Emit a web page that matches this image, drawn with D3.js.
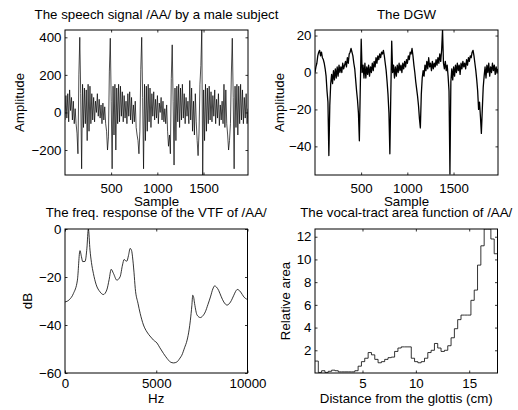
<!DOCTYPE html>
<html>
<head>
<meta charset="utf-8">
<script src="https://cdn.jsdelivr.net/npm/d3@7"></script>
<style>
  body { margin: 0; background: #fff; }
  svg { display: block; }
</style>
</head>
<body>
<div id="chart"></div>
<script>
// speech signal /AA/, one value every 10 samples from sample 1
const speechStep = 10;
const speechAmp = [
  -40, 90, -30, 100, -50, 120, 10, 80, -40, 60, -60, 20, -60, -110, -220, 200,
  400, 100, -300, 150, -80, 130, -60, 120, -150, 150, -100, 140, -60, 100, -40, 80,
  -50, 60, 0, 100, -20, 70, -30, 40, -60, 50, -40, 30, -60, -100, -200, -130, 220,
  395, 60, -300, 140, -120, 150, -200, 130, -60, 150, -50, 140, -20, 110, -50, 90,
  -30, 60, -60, 100, -20, 110, -40, 80, -60, 40, -50, 60, -80, -120, -150, -220, -100, 230,
  400, 80, -300, 150, -150, 140, -100, 150, -50, 130, -80, 100, -20, 110, -40, 70,
  -30, 90, -60, 50, 0, 80, -40, 60, -50, 20, -60, 40, -100, -180, -120, -220, 180,
  360, 60, -280, 130, -150, 140, -50, 150, -80, 130, -40, 150, -30, 100, -60, 80,
  -20, 60, -60, 170, -40, 130, -100, 60, -120, 100, -50, -150, -230, -110, 150, 250,
  439, -333, 120, -150, 150, -100, 130, -60, 140, -40, 110, -50, 90, -20, 120, -60,
  70, -30, 100, -70, 40, -40, 60, -60, 150, -80, 120, -60, -120, -200, -150, -60, 210,
  395, 80, -300, 140, -80, 150, -120, 140, -60, 150, -40, 120, -60, 80, -30, 100, -60, 20
];

// differentiated glottal wave, same sampling as the speech signal
const dgwAmp = [
  0, 3, 5, 9, 11, 12, 9, 11, 8, 7, 5, 2, -2, -10, -16, -45,
  -18, -6, -1, -6, 1, -4, 2, -3, 3, -2, 4, 0, 3, 0, 5, 2,
  4, 6, 3, 8, 5, 10, 11, 13, 11, 9, 5, 2, -4, -10, -15, -22,
  -37, -8, 18, 0, 4, -3, 5, -3, 3, -1, 4, -2, 3, 0, 5, 1,
  6, 3, 8, 5, 9, 7, 10, 8, 11, 10, 12, 9, 5, 1, -5, -12,
  -22, -44, -12, 17, 0, 4, -3, 3, -2, 4, 0, 5, 1, 4, 0, 5,
  2, 6, 3, 7, 5, 9, 7, 11, 10, 13, 9, 4, 0, -5, -9, -13,
  -18, -25, -30, -12, -3, 1, -2, 4, 1, 6, 2, 8, 3, 5, 1, 6,
  2, 5, 3, 7, 4, 8, 5, 10, 6, 12, 23, 5, 2, 6, 1, 4,
  -2, -10, -55, -5, 2, -4, 3, -2, 4, 0, 5, 1, 4, -1, 5, 2,
  6, 3, 5, 2, 7, 4, 8, 6, 9, 8, 11, 12, 9, 5, 1, -4,
  -10, -20, -16, -24, -33, -20, -8, -2, 3, -3, 4, 0, 5, -2, 3, 0,
  5, 1, 4, -1, 3, 0, 2
];

// frequency response of the vocal-tract filter
const freqHz = [
  0, 230, 460, 680, 820, 900, 970, 1100, 1200, 1280, 1370, 1450, 1555, 1700, 1920,
  2100, 2290, 2420, 2530, 2655, 2840, 3020, 3150, 3240, 3320, 3390, 3480, 3570, 3650,
  3700, 3780, 3850, 4000, 4120, 4300, 4490, 4700, 4850, 5040, 5200, 5400, 5600, 5770,
  5950, 6130, 6300, 6400, 6550, 6690, 6800, 6870, 6950, 7000, 7050, 7100, 7240, 7420,
  7550, 7690, 7830, 7970, 8100, 8200, 8300, 8420, 8550, 8700, 8880, 9070, 9250, 9350,
  9440, 9530, 9620, 9800, 10000
];
const freqDb = [
  -30.4, -29.5, -26.9, -21.3, -9, -11.5, -13.6, -13.5, -8, 0, -8.8, -14, -18.5, -23, -26.2,
  -27.3, -25.4, -21, -16.8, -18.5, -21.3, -19.9, -15, -12.7, -13.2, -13.4, -11, -8.1, -9,
  -11.6, -18, -24.8, -31, -35.2, -40, -42.9, -45, -46.3, -47.5, -49.5, -51.9, -54, -55.4,
  -55.8, -55.4, -53.8, -52.6, -49.5, -46.3, -42, -38, -32, -27.6, -28.5, -31, -35.9, -36.9,
  -36.2, -34.5, -31.5, -28.3, -25, -23.7, -24.2, -25.6, -28, -30.4, -31.7, -30.4, -27.6, -26,
  -25.2, -25.5, -26.2, -28.3, -29.4
];

// vocal-tract area function (stairs)
const areaDist = [
  0.55, 0.86, 1.17, 1.48, 1.79, 2.11, 2.42, 2.73, 3.04, 3.35, 3.66, 3.97, 4.28, 4.59,
  4.90, 5.21, 5.53, 5.84, 6.15, 6.46, 6.77, 7.08, 7.39, 7.70, 8.01, 8.32, 8.63, 8.94,
  9.26, 9.57, 9.88, 10.19, 10.50, 10.81, 11.12, 11.43, 11.74, 12.05, 12.36, 12.68, 12.99,
  13.30, 13.61, 13.92, 14.23, 14.54, 14.85, 15.16, 15.47, 15.78, 16.09, 16.40, 16.72,
  17.03, 17.34, 17.65
];
const areaValues = [
  1.05, 0.05, 0.2, 0.05, 0.15, 0.25, 0.2, 0.1, 0.1, 0.1, 0.1, 0.1, 0.2, 0.6,
  1.0, 1.3, 1.8, 1.6, 1.2, 0.9, 1.0, 1.2, 1.35, 1.4, 1.9, 2.2, 2.3, 2.3,
  2.3, 1.3, 1.0, 0.9, 1.0, 1.3, 1.8, 2.0, 2.6, 2.2, 1.9, 2.0, 2.4,
  3.1, 3.9, 4.7, 5.1, 5.1, 5.1, 6.4, 7.3, 9.5, 11.2, 12.68, 12.68,
  11.8, 10.5, 10.5
];

const sampleTicks = [500, 1000, 1500];
const speechTicks = [-200, 0, 200, 400];
const dgwTicks = [-40, -20, 0, 20];
const hzTicks = [0, 5000, 10000];
const dbTicks = [-60, -40, -20, 0];
const distTicks = [5, 10, 15];
const areaTicks = [2, 4, 6, 8, 10, 12];

const FONT = '"Liberation Sans", Arial, Helvetica, sans-serif';
const FONT_SIZE = 13.3;

const svg = d3.select('#chart').append('svg')
    .attr('width', 518)
    .attr('height', 410)
    .attr('font-family', FONT);

function drawPanel(cfg) {
    const x = d3.scaleLinear()
        .domain(cfg.xDomain)
        .range([cfg.left, cfg.left + cfg.width]);
    const y = d3.scaleLinear()
        .domain(cfg.yDomain)
        .range([cfg.top + cfg.height, cfg.top]);

    svg.append('clipPath')
        .attr('id', 'clip-' + cfg.id)
        .append('rect')
        .attr('x', cfg.left)
        .attr('y', cfg.top)
        .attr('width', cfg.width)
        .attr('height', cfg.height);

    // the data line
    const line = d3.line()
        .x(d => x(d[0]))
        .y(d => y(d[1]))
        .curve(cfg.curve || d3.curveLinear);

    svg.append('path')
        .datum(cfg.points)
        .attr('clip-path', `url(#clip-${cfg.id})`)
        .attr('d', line)
        .attr('fill', 'none')
        .attr('stroke', '#000')
        .attr('stroke-width', cfg.lineWidth || 0.8)
        .attr('stroke-linejoin', 'round');

    // axes, ticks pointing inwards on all four sides
    const tick = 2.5;
    const fmt = d3.format('d');
    const bottom = svg.append('g')
        .attr('transform', `translate(0,${cfg.top + cfg.height})`)
        .call(d3.axisBottom(x).tickValues(cfg.xTicks).tickFormat(fmt)
            .tickSizeInner(-tick).tickSizeOuter(0).tickPadding(cfg.xPad));
    const left = svg.append('g')
        .attr('transform', `translate(${cfg.left},0)`)
        .call(d3.axisLeft(y).tickValues(cfg.yTicks).tickFormat(fmt)
            .tickSizeInner(-tick).tickSizeOuter(0).tickPadding(3.5));
    svg.append('g')
        .attr('transform', `translate(0,${cfg.top})`)
        .call(d3.axisTop(x).tickValues(cfg.xTicks).tickSizeInner(-tick).tickSizeOuter(0).tickFormat(''));
    svg.append('g')
        .attr('transform', `translate(${cfg.left + cfg.width},0)`)
        .call(d3.axisRight(y).tickValues(cfg.yTicks).tickSizeInner(-tick).tickSizeOuter(0).tickFormat(''));

    svg.selectAll('.domain').remove();
    [bottom, left].forEach(a => a
        .attr('font-family', FONT)
        .attr('font-size', FONT_SIZE)
        .selectAll('text').attr('fill', '#000'));
    svg.selectAll('.tick line').attr('stroke', '#000').attr('stroke-width', 0.8);

    svg.append('rect')
        .attr('x', cfg.left)
        .attr('y', cfg.top)
        .attr('width', cfg.width)
        .attr('height', cfg.height)
        .attr('fill', 'none')
        .attr('stroke', '#000')
        .attr('stroke-width', 1);

    // title and axis labels
    const cx = cfg.left + cfg.width / 2;
    svg.append('text')
        .attr('x', cx)
        .attr('y', cfg.top - cfg.titleGap)
        .attr('text-anchor', 'middle')
        .attr('font-size', FONT_SIZE)
        .text(cfg.title);
    svg.append('text')
        .attr('x', cx)
        .attr('y', cfg.top + cfg.height + cfg.xLabelGap)
        .attr('text-anchor', 'middle')
        .attr('font-size', FONT_SIZE)
        .text(cfg.xLabel);
    svg.append('text')
        .attr('transform', `translate(${cfg.yLabelX},${cfg.top + cfg.height / 2}) rotate(-90)`)
        .attr('text-anchor', 'middle')
        .attr('font-size', FONT_SIZE)
        .text(cfg.yLabel);
}

drawPanel({
    id: 'speech',
    left: 65, top: 30, width: 183, height: 145,
    xDomain: [1, 1981], yDomain: [-333, 439],
    xTicks: sampleTicks, yTicks: speechTicks, xPad: 8.6,
    points: speechAmp.map((v, i) => [1 + i * speechStep, v]),
    lineWidth: 0.7,
    title: 'The speech signal /AA/ by a male subject', titleGap: 11,
    xLabel: 'Sample', xLabelGap: 30.5,
    yLabel: 'Amplitude', yLabelX: 24
});

drawPanel({
    id: 'dgw',
    left: 315, top: 30, width: 183, height: 145,
    xDomain: [1, 1981], yDomain: [-55.5, 23],
    xTicks: sampleTicks, yTicks: dgwTicks, xPad: 8.6,
    points: dgwAmp.map((v, i) => [1 + i * speechStep, v]),
    lineWidth: 1.3,
    title: 'The DGW', titleGap: 11,
    xLabel: 'Sample', xLabelGap: 30.5,
    yLabel: 'Amplitude', yLabelX: 284
});

drawPanel({
    id: 'vtf',
    left: 65, top: 229, width: 182.5, height: 144,
    xDomain: [0, 10000], yDomain: [-60, 0],
    xTicks: hzTicks, yTicks: dbTicks, xPad: 5.9,
    points: freqHz.map((f, i) => [f, freqDb[i]]),
    curve: d3.curveMonotoneX,
    lineWidth: 0.8,
    title: 'The freq. response of the VTF of /AA/', titleGap: 12.3,
    xLabel: 'Hz', xLabelGap: 30,
    yLabel: 'dB', yLabelX: 31.5
});

drawPanel({
    id: 'area',
    left: 315, top: 229, width: 182.5, height: 144,
    xDomain: [0.55, 17.65], yDomain: [0, 12.68],
    xTicks: distTicks, yTicks: areaTicks, xPad: 5.9,
    points: areaDist.map((d, i) => [d, areaValues[i]]),
    curve: d3.curveStepAfter,
    lineWidth: 0.8,
    title: 'The vocal-tract area function of /AA/', titleGap: 12.3,
    xLabel: 'Distance from the glottis (cm)', xLabelGap: 30,
    yLabel: 'Relative area', yLabelX: 289.5
});
</script>
</body>
</html>
